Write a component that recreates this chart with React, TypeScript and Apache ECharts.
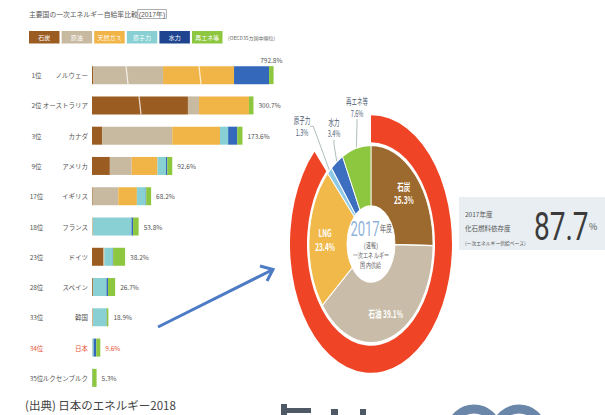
import React, { useEffect, useRef } from 'react';
import * as echarts from 'echarts';

// ---- Left chart: self-sufficiency by country (2017) ----
const countries = ['ノルウェー', 'オーストラリア', 'カナダ', 'アメリカ', 'イギリス', 'フランス', 'ドイツ', 'スペイン', '韓国', '日本', 'ルクセンブルク'];
const ranks = ['1位', '2位', '3位', '9位', '17位', '18位', '23位', '28位', '33位', '34位', '35位'];
const totals = ['792.8%', '300.7%', '173.6%', '92.6%', '68.2%', '53.8%', '38.2%', '26.7%', '18.9%', '9.6%', '5.3%'];
const sources = ['石炭', '原油', '天然ガス', '原子力', '水力', '再エネ等'];
// Norway and Australia are drawn as broken (shortened) bars in the source; their values are the drawn lengths.
const coal = [1.2, 110.7, 11.7, 20.6, 0.8, 0, 13.2, 1.0, 0.5, 0, 0];
const oil = [80.8, 12.7, 80.9, 25.2, 29.5, 1.0, 0.5, 0.2, 0.5, 0.2, 0];
const gas = [81.9, 57.7, 55.1, 29.7, 21.5, 0.1, 0.5, 0, 0.2, 0.3, 0];
const nuclear = [0, 0, 9.4, 9.9, 10.2, 44.5, 9.7, 15.5, 15.5, 1.4, 0];
const hydro = [40.4, 0, 10.6, 1.5, 0.5, 1.8, 0.5, 1.8, 0.3, 3.0, 0.4];
const renewables = [5.2, 5.2, 5.9, 5.7, 5.7, 6.4, 13.8, 8.2, 1.9, 4.7, 4.9];
// break marks [x value, country index]
const breakMarks = [[40.4, 0], [124.6, 0], [55.4, 1]];

// ---- Right chart: Japan primary energy supply FY2017 ----
const mixNames = ['石炭', '石油', 'LNG', '原子力', '水力', '再エネ等'];
const mixValues = [25.3, 39.1, 23.4, 1.3, 3.4, 7.6];
const fossilShare = [87.7, 12.3];

const barColors = ['#9b5c22', '#c8b9a1', '#f1b446', '#88d0d3', '#3468bb', '#8dc63f'];
const mixColors = ['#9c6a2e', '#c9bda9', '#f0b94a', '#8ec9e6', '#3d6fc0', '#8dc63f'];
const RED = '#ef4526';
const FONT = "'Noto Sans CJK JP', 'Noto Sans', sans-serif";

// label anchor placement for the three small outer slices (in the donut box's own pixels)
const outerLabelSpots: Record<number, [number, number]> = { 3: [31, 26], 4: [63, 27], 5: [86, 14] };

function buildMain(): any {
  const series: any[] = [coal, oil, gas, nuclear, hydro, renewables].map((arr, si) => ({
    name: sources[si],
    type: 'bar',
    stack: 'total',
    barWidth: 18,
    itemStyle: { color: barColors[si] },
    data: si === 5
      ? arr.map((v, i) => (i === 0 ? { value: v, label: { position: 'top', distance: 3 } } : i === 9 ? { value: v, label: { color: '#e8553a' } } : v))
      : arr,
    label: si === 5 ? {
      show: true, position: 'right', distance: 5, fontSize: 6.5, color: '#555', fontFamily: FONT,
      formatter: (p: any) => totals[p.dataIndex],
    } : { show: false },
  }));
  series.push({
    type: 'custom',
    data: breakMarks,
    encode: { x: 0, y: 1 },
    z: 10,
    silent: true,
    renderItem: (params: any, api: any) => {
      const p = api.coord([api.value(0), api.value(1)]);
      return {
        type: 'line',
        shape: { x1: p[0] - 1, y1: p[1] - 9, x2: p[0] + 1, y2: p[1] + 9 },
        style: { stroke: 'rgba(255,255,255,0.75)', lineWidth: 1.3 },
      };
    },
  });

  const legendEls: any[] = sources.map((s, i) => ({
    type: 'group', x: 29 + i * 32.6, y: 31,
    children: [
      { type: 'rect', shape: { x: 0, y: 0, width: 30.5, height: 12.5 }, style: { fill: i === 4 ? '#1f4590' : barColors[i] } },
      { type: 'text', x: 15.25, y: 6.5, style: { text: s, fill: '#fff', fontSize: 6, fontFamily: FONT, align: 'center', verticalAlign: 'middle' } },
    ],
  }));

  return {
    animation: false,
    textStyle: { fontFamily: FONT },
    grid: { left: 92, top: 60, width: 182, height: 333, containLabel: false },
    xAxis: { type: 'value', min: 0, max: 210, show: false },
    yAxis: {
      type: 'category', data: countries, inverse: true,
      axisLine: { show: false }, axisTick: { show: false },
      axisLabel: {
        margin: 4,
        formatter: (v: string, i: number) => (i === 9 ? `{rj|${ranks[i]}}{nj|${v}}` : `{r|${ranks[i]}}{n|${v}}`),
        rich: {
          r: { width: 17, align: 'center', fontSize: 6.5, color: '#555', fontFamily: FONT },
          n: { width: 43, align: 'right', fontSize: 6.5, color: '#555', fontFamily: FONT },
          rj: { width: 17, align: 'center', fontSize: 6.5, color: '#e8553a', fontFamily: FONT },
          nj: { width: 43, align: 'right', fontSize: 6.5, color: '#e8553a', fontFamily: FONT },
        },
      },
    },
    series,
    graphic: [
      {
        type: 'text', x: 29, y: 14,
        style: {
          text: '主要国の一次エネルギー自給率比較{b|(2017年)}', fill: '#555', fontSize: 6.8, fontFamily: FONT, verticalAlign: 'middle',
          rich: { b: { fontSize: 6.8, fill: '#555', borderColor: '#777', borderWidth: 0.6, padding: [1, 1] } },
        },
      },
      ...legendEls,
      { type: 'text', x: 228, y: 37, style: { text: '(OECD35カ国中順位)', fill: '#666', fontSize: 5, fontFamily: FONT, verticalAlign: 'middle' } },
      { type: 'text', x: 25, y: 405, style: { text: '(出典) 日本のエネルギー2018', fill: '#444', fontSize: 11.5, fontFamily: FONT, verticalAlign: 'middle' } },
      // arrow
      { type: 'line', shape: { x1: 158, y1: 327, x2: 272, y2: 270 }, style: { stroke: '#4d7cc4', lineWidth: 3 } },
      { type: 'polyline', shape: { points: [[260, 266], [273, 269.5], [267, 281]] }, style: { stroke: '#4d7cc4', lineWidth: 3, fill: 'none' } },
      // fossil dependence box
      { type: 'rect', shape: { x: 459, y: 197, width: 146, height: 53 }, style: { fill: '#e8eef2' } },
      { type: 'text', x: 465, y: 214, style: { text: '2017年度', fill: '#555', fontSize: 6.5, fontFamily: FONT, verticalAlign: 'middle' } },
      { type: 'text', x: 465, y: 228, style: { text: '化石燃料依存度', fill: '#555', fontSize: 6.5, fontFamily: FONT, verticalAlign: 'middle' } },
      { type: 'text', x: 465, y: 242, style: { text: '(一次エネルギー供給ベース)', fill: '#555', fontSize: 4.8, fontFamily: FONT, verticalAlign: 'middle' } },
      { type: 'text', x: 534, y: 226, scaleY: 1.4, style: { text: '87.7', fill: '#3b3b3b', fontSize: 28, fontFamily: 'Roboto, sans-serif', verticalAlign: 'middle' } },
      { type: 'text', x: 589, y: 226, style: { text: '%', fill: '#555', fontSize: 9, fontFamily: FONT, verticalAlign: 'middle' } },
      // cut-off decorations at the bottom
      { type: 'rect', shape: { x: 281, y: 404, width: 6, height: 13 }, style: { fill: '#4f5965' } },
      { type: 'rect', shape: { x: 283, y: 408, width: 28, height: 5 }, style: { fill: '#4f5965' } },
      { type: 'rect', shape: { x: 331, y: 409, width: 7, height: 8 }, style: { fill: '#4f5965' } },
      { type: 'rect', shape: { x: 360, y: 409, width: 6, height: 8 }, style: { fill: '#4f5965' } },
      { type: 'ellipse', shape: { cx: 474, cy: 429, rx: 22, ry: 20 }, style: { stroke: '#6a86a8', lineWidth: 9, fill: 'none' } },
      { type: 'ellipse', shape: { cx: 519, cy: 429, rx: 22, ry: 20 }, style: { stroke: '#6a86a8', lineWidth: 9, fill: 'none' } },
    ],
  };
}

function buildDonut(): any {
  const inner = mixNames.map((n, i) => {
    const isInside = i < 3;
    return {
      name: n,
      value: mixValues[i],
      itemStyle: { color: mixColors[i] },
      label: isInside
        ? {
          position: 'inside', color: '#fff', fontSize: 6.5, lineHeight: 8.5, fontWeight: 'bold',
          formatter: i === 1 ? '{b} {c}%' : '{b}\n{c}%',
        }
        : { position: 'outside', color: '#4b5a70', fontSize: 5.5, lineHeight: 7.5, formatter: '{b}\n{c}%' },
      labelLine: isInside ? { show: false } : { show: true, length: 12, length2: 3, lineStyle: { color: '#9aa', width: 0.6 } },
    };
  });
  return {
    animation: false,
    textStyle: { fontFamily: FONT },
    series: [
      {
        type: 'pie', radius: [64, 81], center: ['50%', '50%'], startAngle: 90, clockwise: true, silent: true,
        label: { show: false }, labelLine: { show: false },
        data: [
          { name: '化石燃料', value: fossilShare[0], itemStyle: { color: RED } },
          { name: 'その他', value: fossilShare[1], itemStyle: { color: 'rgba(0,0,0,0)' } },
        ],
      },
      {
        type: 'pie', radius: [24, 62], center: ['50%', '50%'], startAngle: 90, clockwise: true, silent: true,
        itemStyle: { borderColor: '#fff', borderWidth: 0.8 },
        label: { show: true, fontFamily: FONT },
        labelLayout: (params: any) => {
          const spot = outerLabelSpots[params.dataIndex];
          if (!spot) return {};
          return { x: spot[0], y: spot[1], align: 'center', verticalAlign: 'middle', hideOverlap: false };
        },
        data: inner,
      },
    ],
    graphic: [
      {
        type: 'text', x: 100, y: 100,
        style: {
          text: '{a|2017}{y|年度}\n{c|(速報)}\n{c|一次エネルギー}\n{c|国内供給}',
          align: 'center', verticalAlign: 'middle', fontFamily: FONT,
          rich: {
            a: { fontSize: 13, fill: '#8fb3da', lineHeight: 14, fontFamily: 'Roboto, sans-serif' },
            y: { fontSize: 6, fill: '#555', lineHeight: 14 },
            c: { fontSize: 5, fill: '#555', lineHeight: 6.5 },
          },
        },
      },
    ],
  };
}

export default function App() {
  const mainRef = useRef<HTMLDivElement>(null);
  const donutRef = useRef<HTMLDivElement>(null);
  useEffect(() => {
    const main = echarts.init(mainRef.current!, undefined, { renderer: 'svg' });
    const donut = echarts.init(donutRef.current!, undefined, { renderer: 'svg' });
    main.setOption(buildMain());
    donut.setOption(buildDonut());
    return () => {
      main.dispose();
      donut.dispose();
    };
  }, []);
  return (
    <div style={{ position: 'fixed', left: 0, top: 0, width: 605, height: 415, background: '#fff', overflow: 'hidden' }}>
      <div ref={mainRef} style={{ position: 'absolute', left: 0, top: 0, width: 605, height: 415 }} />
      <div
        ref={donutRef}
        style={{ position: 'absolute', left: 271, top: 144, width: 200, height: 200, transform: 'scaleY(1.59)', transformOrigin: '50% 50%' }}
      />
    </div>
  );
}
